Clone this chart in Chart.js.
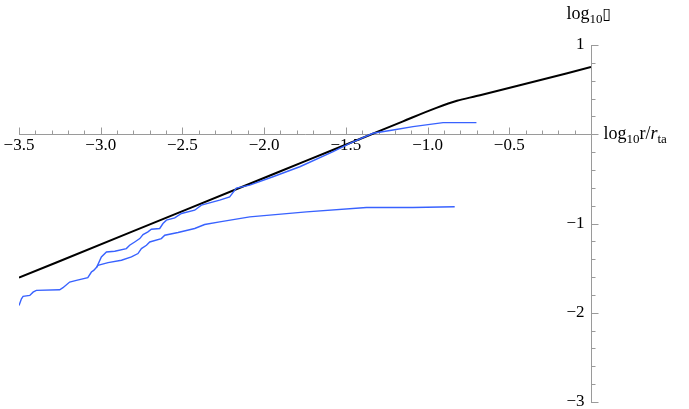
<!DOCTYPE html>
<html>
<head>
<meta charset="utf-8">
<script src="https://cdn.jsdelivr.net/npm/chart.js@4.4.1/dist/chart.umd.min.js"></script>
<style>
  html, body { margin: 0; padding: 0; background: #fff; }
  #wrap { width: 689px; height: 409px; position: relative; }
</style>
</head>
<body>
<div id="wrap"><canvas id="plot"></canvas></div>
<script>
// axis ticks (log10 r/r_ta, log10 rho)
const xMajorTicks = [-3.5, -3.0, -2.5, -2.0, -1.5, -1.0, -0.5];
const xTickLabels = ['−3.5', '−3.0', '−2.5', '−2.0', '−1.5', '−1.0', '−0.5'];
const yMajorTicks = [1, -1, -2, -3];
const yTickLabels = ['1', '−1', '−2', '−3'];

// black reference curve
const blackX = [-3.5, -2.827, -2.088, -1.741, -1.354, -1.150, -0.946, -0.820, -0.701, -0.436, 0];
const blackY = [-1.607, -1.105, -0.555, -0.296, -0.008, 0.145, 0.295, 0.375, 0.428, 0.548, 0.753];

// blue curve, upper branch (goes up to the black line)
const upperX = [-3.5, -3.485, -3.475, -3.434, -3.414, -3.394, -3.251, -3.231, -3.190, -3.149, -3.079, -3.057, -3.043, -3.024,
  -2.996, -2.965, -2.914, -2.843, -2.823, -2.792, -2.761, -2.741, -2.711, -2.690, -2.639, -2.619, -2.598, -2.547,
  -2.506, -2.425, -2.384, -2.272, -2.211, -2.170, -2.088, -1.946, -1.782, -1.578, -1.476, -1.334, -1.211, -1.089, -0.905, -0.701];
const upperY = [-1.918, -1.843, -1.817, -1.806, -1.769, -1.749, -1.742, -1.719, -1.656, -1.637, -1.607, -1.544, -1.525, -1.488,
  -1.375, -1.319, -1.311, -1.281, -1.244, -1.207, -1.169, -1.124, -1.094, -1.064, -1.056, -1.000, -0.963, -0.937,
  -0.888, -0.851, -0.794, -0.738, -0.701, -0.603, -0.570, -0.476, -0.364, -0.196, -0.101, 0.011, 0.048, 0.085, 0.130, 0.130];

// blue curve, lower branch (splits off near -3.0)
const lowerX = [-3.024, -3.017, -2.955, -2.873, -2.812, -2.772, -2.751, -2.720, -2.700, -2.629, -2.608, -2.527, -2.425,
  -2.364, -2.272, -2.088, -1.741, -1.374, -1.091, -0.834];
const lowerY = [-1.488, -1.469, -1.438, -1.412, -1.375, -1.337, -1.281, -1.244, -1.207, -1.169, -1.131, -1.101, -1.056,
  -1.011, -0.982, -0.926, -0.870, -0.820, -0.820, -0.813];

const toPts = (xs, ys) => xs.map((v, i) => ({ x: v, y: ys[i] }));

const SERIF = '"Liberation Serif", "DejaVu Serif", serif';
const AXIS_GREY = '#9a9a9a';

// draw runs of text (main + subscript) one after another
function drawRuns(ctx, x, base, runs) {
    runs.forEach(r => {
        ctx.font = (r.italic ? 'italic ' : '') + r.size + 'px ' + SERIF;
        ctx.fillText(r.t, x, base + (r.dy || 0));
        x += ctx.measureText(r.t).width;
    });
}

// Mathematica style axes through the origin
const originAxes = {
    id: 'originAxes',
    beforeDatasetsDraw(chart) {
        const { ctx, scales: { x, y } } = chart;
        const x0 = Math.round(x.getPixelForValue(0)) + 0.5;
        const y0 = Math.round(y.getPixelForValue(0)) + 0.5;
        ctx.save();
        ctx.strokeStyle = AXIS_GREY;
        ctx.lineWidth = 1;

        // x axis + ticks (pointing up)
        ctx.beginPath();
        ctx.moveTo(Math.round(x.getPixelForValue(x.min)), y0);
        ctx.lineTo(x0, y0);
        for (let i = 0; i <= 35; i++) {
            const v = x.min + i * 0.1;
            const px = Math.round(x.getPixelForValue(v)) + 0.5;
            const major = i % 5 === 0;
            ctx.moveTo(px, y0);
            ctx.lineTo(px, y0 - (major ? 7 : 4));
        }
        // y axis + ticks (pointing right)
        ctx.moveTo(x0, Math.round(y.getPixelForValue(y.max)));
        ctx.lineTo(x0, Math.round(y.getPixelForValue(y.min)) + 1);
        for (let i = 0; i <= 20; i++) {
            const v = y.min + i * 0.2;
            const py = Math.round(y.getPixelForValue(v)) + 0.5;
            const major = i % 5 === 0;
            ctx.moveTo(x0, py);
            ctx.lineTo(x0 + (major ? 7 : 4), py);
        }
        ctx.stroke();

        // tick labels
        ctx.fillStyle = '#000';
        ctx.font = '17px ' + SERIF;
        ctx.textBaseline = 'middle';
        ctx.textAlign = 'center';
        xMajorTicks.forEach((v, i) => {
            ctx.fillText(xTickLabels[i], x.getPixelForValue(v), y0 + 11);
        });
        ctx.textAlign = 'right';
        yMajorTicks.forEach((v, i) => {
            ctx.fillText(yTickLabels[i], x0 - 7, y.getPixelForValue(v));
        });

        // axis titles
        ctx.textAlign = 'left';
        ctx.textBaseline = 'alphabetic';
        drawRuns(ctx, x0 + 12, y0 + 4, [
            { t: 'log', size: 18 },
            { t: '10', size: 13, dy: 4 },
            { t: 'r/', size: 18 },
            { t: 'r', size: 18, italic: true },
            { t: 'ta', size: 13, dy: 4 }
        ]);
        drawRuns(ctx, x0 - 25, 19, [
            { t: 'log', size: 18 },
            { t: '10', size: 13, dy: 4 },
            { t: '▯', size: 16 }
        ]);
        ctx.restore();
    }
};

const BLUE = '#3862ff';

new Chart(document.getElementById('plot'), {
    type: 'scatter',
    data: {
        datasets: [
            { data: toPts(lowerX, lowerY), borderColor: BLUE, borderWidth: 1.4 },
            { data: toPts(upperX, upperY), borderColor: BLUE, borderWidth: 1.4 },
            { data: toPts(blackX, blackY), borderColor: '#000', borderWidth: 2, cubicInterpolationMode: 'monotone' }
        ].map(d => Object.assign(d, { showLine: true, pointRadius: 0, fill: false }))
    },
    options: {
        responsive: true,
        maintainAspectRatio: false,
        animation: false,
        layout: { padding: { left: 19, right: 98, top: 45, bottom: 7 } },
        scales: {
            x: { type: 'linear', min: -3.5, max: 0, display: false },
            y: { type: 'linear', min: -3, max: 1, display: false }
        },
        plugins: {
            legend: { display: false },
            tooltip: { enabled: false }
        }
    },
    plugins: [originAxes]
});
</script>
</body>
</html>
